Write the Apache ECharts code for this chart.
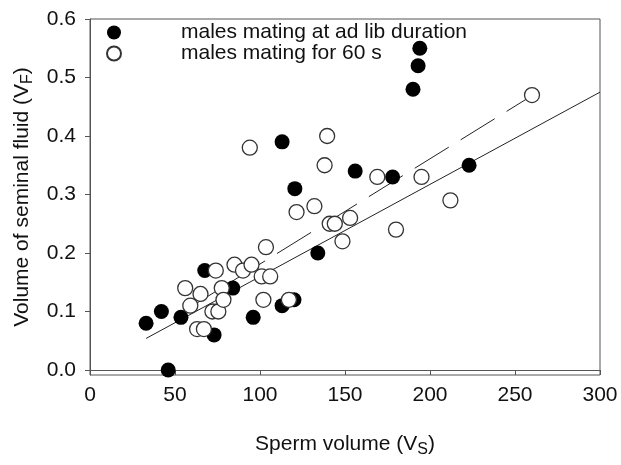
<!DOCTYPE html>
<html>
<head>
<meta charset="utf-8">
<script src="https://cdn.jsdelivr.net/npm/echarts@6/dist/echarts.min.js"></script>
<style>
  html, body { margin: 0; padding: 0; background: #fff; }
  #chart { width: 621px; height: 465px; }
</style>
</head>
<body>
<div id="chart"></div>
<script>
// males mating at ad lib duration (filled)
var adLibX = [33, 42, 46, 53.5, 67.5, 73, 84, 96, 113, 113, 120, 120.5, 134, 156, 178, 190, 193, 194, 223]
var adLibY = [0.08, 0.10, 0.00, 0.09, 0.17, 0.06, 0.14, 0.09, 0.11, 0.39, 0.12, 0.31, 0.20, 0.34, 0.33, 0.48, 0.52, 0.55, 0.35]

// males mating for 60 s (open)
var sixtyX = [56, 59, 65, 63, 67, 72, 75.5, 74, 77.5, 78.5, 85, 90, 95, 94, 101, 106, 102, 103.5, 117, 121.5, 132, 138, 139.5, 141, 144, 148.5, 153, 169, 180, 195, 212, 260]
var sixtyY = [0.14, 0.11, 0.13, 0.07, 0.07, 0.10, 0.10, 0.17, 0.14, 0.12, 0.18, 0.17, 0.18, 0.38, 0.16, 0.16, 0.12, 0.21, 0.12, 0.27, 0.28, 0.35, 0.40, 0.25, 0.25, 0.22, 0.26, 0.33, 0.24, 0.33, 0.29, 0.47]

// regression lines (end points)
var adLibFitX = [33, 300]
var adLibFitY = [0.054, 0.475]
var sixtyFitX = [56, 260]
var sixtyFitY = [0.102, 0.469]

var yTicks = [0, 0.1, 0.2, 0.3, 0.4, 0.5, 0.6]

function pairs (xs, ys) {
  return xs.map(function (x, i) { return [x, ys[i]] })
}

var font = 'Liberation Sans, Arial, sans-serif'
var axisColor = '#555'

var chart = echarts.init(document.getElementById('chart'))
chart.setOption({
  animation: false,
  textStyle: { fontFamily: font },
  grid: {
    left: 90,
    right: 21,
    top: 19,
    bottom: 90,
    show: true,
    borderColor: axisColor,
    borderWidth: 1
  },
  legend: {
    left: 101,
    top: 17,
    orient: 'vertical',
    itemWidth: 14,
    itemHeight: 14,
    itemGap: 0,
    data: ['males mating at ad lib duration', 'males mating for 60 s'],
    textStyle: {
      fontFamily: font,
      fontSize: 21,
      color: '#111',
      lineHeight: 20,
      padding: [0, 0, 0, 55]
    }
  },
  xAxis: {
    type: 'value',
    min: 0,
    max: 300,
    interval: 50,
    name: '{a|Sperm volume (V}{s|S}{a|)}',
    nameLocation: 'middle',
    nameGap: 55,
    nameTextStyle: {
      rich: {
        a: { fontFamily: font, fontSize: 21, color: '#111' },
        s: { fontFamily: font, fontSize: 16, color: '#111', padding: [12, 0, 0, 0] }
      }
    },
    splitLine: { show: false },
    axisLine: { lineStyle: { color: axisColor } },
    axisTick: { inside: false, length: 5, lineStyle: { color: axisColor } },
    axisLabel: { fontFamily: font, fontSize: 21, color: '#111', margin: 10 }
  },
  yAxis: {
    type: 'value',
    min: -0.0085,
    max: 0.6,
    name: '{a|Volume of seminal fluid (V}{s|F}{a|)}',
    nameLocation: 'middle',
    nameGap: 53,
    nameTextStyle: {
      rich: {
        a: { fontFamily: font, fontSize: 21, color: '#111' },
        s: { fontFamily: font, fontSize: 16, color: '#111', padding: [12, 0, 0, 0] }
      }
    },
    splitLine: { show: false },
    axisLine: { lineStyle: { color: axisColor } },
    axisTick: { inside: false, length: 5, customValues: yTicks, lineStyle: { color: axisColor } },
    axisLabel: {
      fontFamily: font,
      fontSize: 21,
      color: '#111',
      margin: 14,
      customValues: yTicks,
      formatter: function (v) { return v.toFixed(1) }
    }
  },
  series: [
    {
      type: 'line',
      data: pairs(adLibFitX, adLibFitY),
      symbol: 'none',
      z: 1,
      lineStyle: { color: '#222', width: 1 }
    },
    {
      type: 'line',
      data: pairs(sixtyFitX, sixtyFitY),
      symbol: 'none',
      z: 1,
      lineStyle: { color: '#222', width: 1, type: [40, 14] }
    },
    {
      name: 'males mating at ad lib duration',
      type: 'scatter',
      data: pairs(adLibX, adLibY),
      symbol: 'circle',
      symbolSize: 15,
      z: 2,
      itemStyle: { color: '#000', opacity: 1 }
    },
    {
      name: 'males mating for 60 s',
      type: 'scatter',
      data: pairs(sixtyX, sixtyY),
      symbol: 'circle',
      symbolSize: 15,
      z: 3,
      itemStyle: { color: '#fff', borderColor: '#333', borderWidth: 1.3, opacity: 1 }
    }
  ]
})
</script>
</body>
</html>
